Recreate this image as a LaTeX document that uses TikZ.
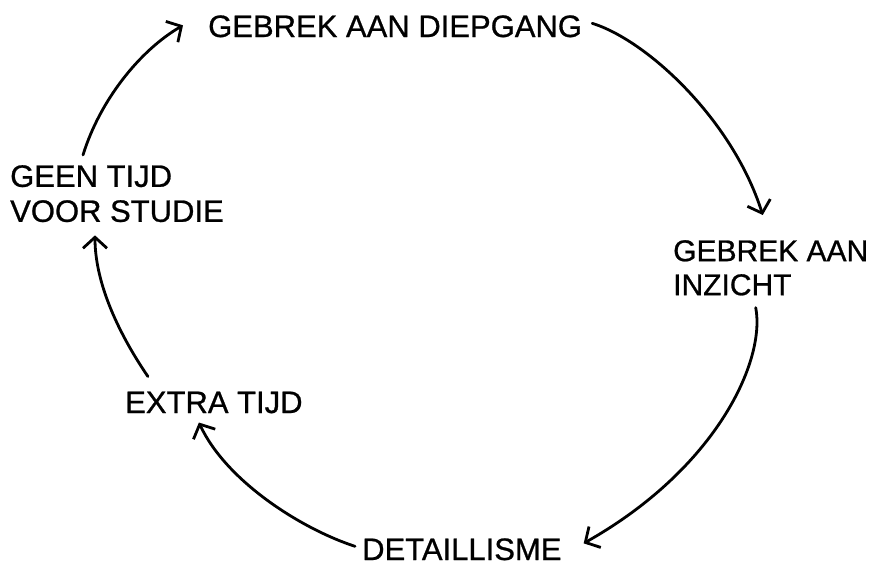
\documentclass[tikz,border=0pt]{standalone}
\usepackage{fontspec}
\setmainfont{Liberation Sans}
\newfontfamily\heavysans[FakeBold=0.8]{Liberation Sans}
\usetikzlibrary{arrows.meta}
\begin{document}
\begin{tikzpicture}[x=1pt,y=-1pt,
  lbl/.style={inner sep=0pt,font=\heavysans\fontsize{31}{35}\selectfont,align=left},
  conn/.style={line width=2.8pt,line cap=round,line join=round,
    -{Straight Barb[length=11pt,width=24pt,line width=2.8pt]}}]
\useasboundingbox (0,0) rectangle (875,565);
\node[lbl,anchor=base west] (diep) at (208,37) {GEBREK AAN DIEPGANG};
\node[lbl,anchor=north west] (geen) at (10,165) {GEEN TIJD\\VOOR STUDIE};
\node[lbl,anchor=north west,font=\heavysans\fontsize{30}{34}\selectfont] (inz) at (673,240) {GEBREK AAN\\INZICHT};
\node[lbl,anchor=base west] (extra) at (125,413) {EXTRA TIJD};
\node[lbl,anchor=base west] (det) at (362,560) {DETAILLISME};
% GEEN TIJD -> GEBREK AAN DIEPGANG
\draw[conn] ([xshift=73pt,yshift=10pt]geen.north west)
  .. controls +(17pt,55pt) and +(-43pt,-25pt) .. ([xshift=-25pt,yshift=1pt]diep.west);
% DIEPGANG -> INZICHT
\draw[conn] ([xshift=10pt,yshift=3pt]diep.east)
  .. controls +(55pt,-17pt) and +(-30pt,95pt) .. ([xshift=-8pt,yshift=25pt]inz.north);
% INZICHT -> DETAILLISME
\draw[conn] ([xshift=-15pt,yshift=-12pt]inz.south)
  .. controls +(10pt,-53pt) and +(133pt,75pt) .. ([xshift=22pt,yshift=6pt]det.east);
% DETAILLISME -> EXTRA TIJD
\draw[conn] ([xshift=-7pt,yshift=3pt]det.west)
  .. controls +(-55pt,18pt) and +(27pt,-58pt) .. ([xshift=-15pt,yshift=-9pt]extra.south);
% EXTRA TIJD -> GEEN TIJD
\draw[conn] ([xshift=-66pt,yshift=15pt]extra.north)
  .. controls +(-32pt,47pt) and +(0pt,-45pt) .. ([xshift=-22pt,yshift=-13pt]geen.south);
\end{tikzpicture}
\end{document}
